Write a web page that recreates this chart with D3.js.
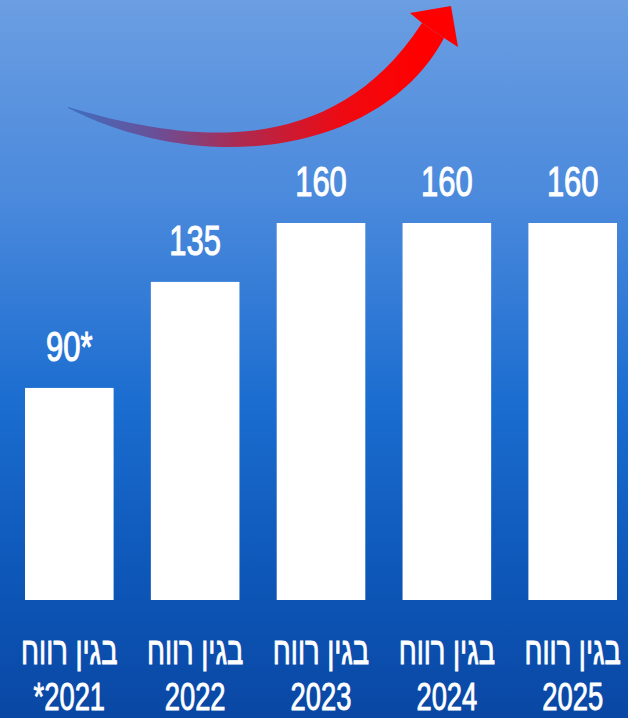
<!DOCTYPE html>
<html>
<head>
<meta charset="utf-8">
<script src="https://cdn.jsdelivr.net/npm/d3@7/dist/d3.min.js"></script>
<style>
  html, body { margin: 0; padding: 0; background: #0b4aa6; }
  svg { display: block; }
</style>
</head>
<body>
<svg id="chart" width="628" height="718"></svg>
<script>
// Profit figures per year
const years = ["2021", "2022", "2023", "2024", "2025"];
const values = [90, 135, 160, 160, 160];
const valueLabels = ["90*", "135", "160", "160", "160"];
const yearLabels = ["*2021", "2022", "2023", "2024", "2025"];
const captions = ["בגין רווח", "בגין רווח", "בגין רווח", "בגין רווח", "בגין רווח"];

const W = 628, H = 718;
const svg = d3.select("#chart");
const defs = svg.append("defs");

// Background: light blue at the top fading to deep blue at the bottom
const bg = defs.append("linearGradient").attr("id", "bg")
  .attr("x1", 0).attr("y1", 0).attr("x2", 0).attr("y2", 1);
[[0, "#6b9ee2"], [0.28, "#4a89dc"], [0.56, "#1b6dd0"], [0.8, "#0d57b8"], [1, "#0a47a4"]]
  .forEach(([o, c]) => bg.append("stop").attr("offset", o).attr("stop-color", c));
svg.append("rect").attr("width", W).attr("height", H).attr("fill", "url(#bg)");

// Rising arrow: blue tail blending into a red head
const ag = defs.append("linearGradient").attr("id", "arrowGrad")
  .attr("gradientUnits", "userSpaceOnUse")
  .attr("x1", 68).attr("y1", 0).attr("x2", 420).attr("y2", 0);
[[0, "#3f6fc0"], [0.25, "#6a4f98"], [0.5, "#b0284c"], [0.78, "#ee0a12"], [1, "#ff0000"]]
  .forEach(([o, c]) => ag.append("stop").attr("offset", o).attr("stop-color", c));

const shaft = d3.path();
shaft.moveTo(68, 107);
shaft.bezierCurveTo(180, 140, 330, 165, 422, 23);
shaft.lineTo(444, 38);
shaft.bezierCurveTo(385, 150, 210, 180, 68, 108);
shaft.closePath();
svg.append("path").attr("d", shaft.toString()).attr("fill", "url(#arrowGrad)");

svg.append("polygon")
  .attr("points", [[422, 23], [410, 13], [451, 6], [458, 47], [444, 38]].map(p => p.join(",")).join(" "))
  .attr("fill", "#ff0000");

// Scales
const x = d3.scaleBand().domain(years).range([25, 617]).paddingInner(0.296).paddingOuter(0);
const y = d3.scaleLinear().domain([0, 160]).range([600, 223]);

// Bars
svg.append("g").selectAll("rect").data(values).join("rect")
  .attr("x", (d, i) => x(years[i]))
  .attr("y", d => y(d))
  .attr("width", x.bandwidth())
  .attr("height", d => y(0) - y(d))
  .attr("fill", "#ffffff");

const font = "'Liberation Sans', Arial, sans-serif";

function narrowText(g, cx, cy, txt, size, sx, sw, dir) {
  g.append("g")
    .attr("transform", `translate(${cx},${cy}) scale(${sx},1)`)
    .append("text")
    .attr("text-anchor", "middle")
    .attr("direction", dir || "ltr")
    .attr("font-family", font)
    .attr("font-size", size)
    .attr("fill", "#ffffff")
    .attr("stroke", "#ffffff")
    .attr("stroke-width", sw)
    .text(txt);
}

// Value labels above bars
const lbl = svg.append("g");
values.forEach((v, i) => {
  const cx = x(years[i]) + x.bandwidth() / 2;
  narrowText(lbl, cx, y(v) - 27, valueLabels[i], 43, 0.72, 1.1);
});

// Category captions under bars
const cap = svg.append("g");
years.forEach((yr, i) => {
  const cx = x(yr) + x.bandwidth() / 2;
  narrowText(cap, cx, 664, captions[i], 39, 0.7, 0.9, "rtl");
  narrowText(cap, cx, 710, yearLabels[i], 38, 0.72, 0.9);
});
</script>
</body>
</html>
